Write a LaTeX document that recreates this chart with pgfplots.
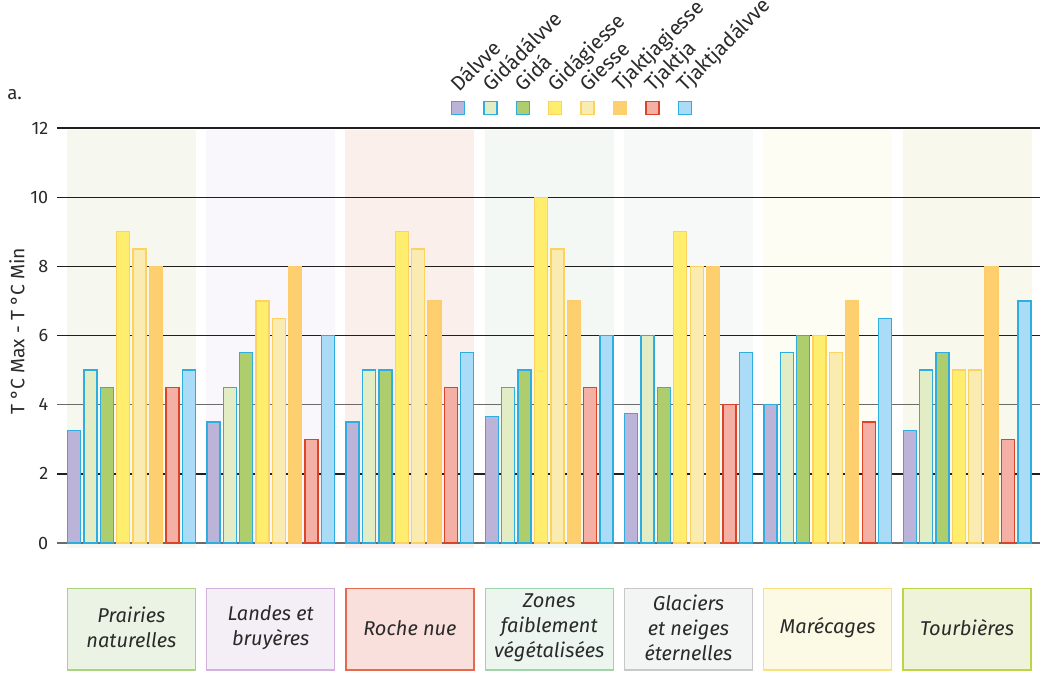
\documentclass[border=0pt]{standalone}
\usepackage{pgfplots}
\pgfplotsset{compat=1.18}
\usepackage{fontspec}
\setmainfont{Fira Sans}

\definecolor{txt}{HTML}{2A2A2A}
\definecolor{eBlue}{HTML}{2EAEE0}
\definecolor{eYel}{HTML}{FCD260}
\definecolor{eOra}{HTML}{FCCD6A}
\definecolor{eRed}{HTML}{DE4328}
\definecolor{fDal}{HTML}{BBB3D8}
\definecolor{fGda}{HTML}{E2EDC6}
\definecolor{fGid}{HTML}{AECE6E}
\definecolor{fGgi}{HTML}{FFEE6E}
\definecolor{fGie}{HTML}{FAEBB0}
\definecolor{fTgi}{HTML}{FDCF6E}
\definecolor{fTja}{HTML}{F4B0A4}
\definecolor{fTda}{HTML}{AADCF7}
% backgrounds of the groups
\definecolor{bg1}{HTML}{F6F8F0}
\definecolor{bg2}{HTML}{F9F7FB}
\definecolor{bg3}{HTML}{FBEFEC}
\definecolor{bg4}{HTML}{F3F8F4}
\definecolor{bg5}{HTML}{F7F9F9}
\definecolor{bg6}{HTML}{FDFDF3}
\definecolor{bg7}{HTML}{F8F9EC}
% category boxes
\definecolor{bf1}{HTML}{EBF4E4}\definecolor{bd1}{HTML}{A9D37D}
\definecolor{bf2}{HTML}{F4EFF6}\definecolor{bd2}{HTML}{D4B0DC}
\definecolor{bf3}{HTML}{F9E0DC}\definecolor{bd3}{HTML}{E36A4E}
\definecolor{bf4}{HTML}{ECF5EE}\definecolor{bd4}{HTML}{9FD4AA}
\definecolor{bf5}{HTML}{F3F5F4}\definecolor{bd5}{HTML}{C8C8C8}
\definecolor{bf6}{HTML}{FCF9E4}\definecolor{bd6}{HTML}{F5E27A}
\definecolor{bf7}{HTML}{EEF3D9}\definecolor{bd7}{HTML}{BCD544}

\tikzset{
    catbox/.style 2 args = {draw = #1, fill = #2, line width = 1pt,
        minimum width = 96pt, minimum height = 61pt, inner sep = 0pt},
    cattext/.style = {align = center, text = txt,
        font = \fontsize{15}{18.75}\selectfont\itshape}
}

\begin{document}
\begin{tikzpicture}

    \begin{axis}[
        scale only axis,
        width = 737.25pt,
        height = 311.25pt,
        xmin = -0.5342, xmax = 6.524,
        ymin = 0, ymax = 12,
        clip = false,
        axis line style = { draw = none },
        xtick = \empty,
        ytick = { 0, 2, ..., 12 },
        major tick length = 0pt,
        tick label style = { font = \fontsize{13.5}{16}\selectfont, text = txt },
        yticklabel style = { xshift = -3pt },
        /pgf/number format/assume math mode = true,
        ylabel = { T °C Max - T °C Min },
        every axis y label/.style = {
            at = { (axis description cs:-0.0407,0.51) },
            rotate = 90, anchor = center,
            font = \fontsize{14.5}{16}\selectfont, text = txt
        },
        ybar,
        bar width = 0.0934,
        every axis plot/.append style = { line width = 1pt }
    ]

        \coordinate (O) at (rel axis cs:0,0);

        % group backgrounds
        \fill[bg1] (axis cs:-0.463,-0.15) rectangle (axis cs:0.463,11.94);
        \fill[bg2] (axis cs:0.537,-0.15) rectangle (axis cs:1.463,11.94);
        \fill[bg3] (axis cs:1.537,-0.15) rectangle (axis cs:2.463,11.94);
        \fill[bg4] (axis cs:2.537,-0.15) rectangle (axis cs:3.463,11.94);
        \fill[bg5] (axis cs:3.537,-0.15) rectangle (axis cs:4.463,11.94);
        \fill[bg6] (axis cs:4.537,-0.15) rectangle (axis cs:5.463,11.94);
        \fill[bg7] (axis cs:5.537,-0.15) rectangle (axis cs:6.463,11.94);

        % horizontal rules, over the backgrounds and under the bars
        \pgfplotsinvokeforeach{2,6,8,10,12}{
            \draw[black!88, line width = 1pt] (axis cs:-0.5342,#1) -- (axis cs:6.524,#1);
        }
        \pgfplotsinvokeforeach{0,4}{
            \draw[black!58, line width = 1pt] (axis cs:-0.5342,#1) -- (axis cs:6.524,#1);
        }

        % Dálvve
        \addplot[fill = fDal, draw = eBlue, bar shift = -0.4116]
        coordinates { (0,3.25) (1,3.5) (2,3.5) (3,3.65) (4,3.75) (5,4) (6,3.25) };
        % Gidádálvve
        \addplot[fill = fGda, draw = eBlue, bar shift = -0.2940]
        coordinates { (0,5) (1,4.5) (2,5) (3,4.5) (4,6) (5,5.5) (6,5) };
        % Gidá
        \addplot[fill = fGid, draw = eBlue, bar shift = -0.1764]
        coordinates { (0,4.5) (1,5.5) (2,5) (3,5) (4,4.5) (5,6) (6,5.5) };
        % Gidágiesse
        \addplot[fill = fGgi, draw = eYel, bar shift = -0.0588]
        coordinates { (0,9) (1,7) (2,9) (3,10) (4,9) (5,6) (6,5) };
        % Giesse
        \addplot[fill = fGie, draw = eYel, bar shift = 0.0588]
        coordinates { (0,8.5) (1,6.5) (2,8.5) (3,8.5) (4,8) (5,5.5) (6,5) };
        % Tjaktjagiesse
        \addplot[fill = fTgi, draw = eOra, bar shift = 0.1764]
        coordinates { (0,8) (1,8) (2,7) (3,7) (4,8) (5,7) (6,8) };
        % Tjaktja
        \addplot[fill = fTja, draw = eRed, bar shift = 0.2940]
        coordinates { (0,4.5) (1,3) (2,4.5) (3,4.5) (4,4) (5,3.5) (6,3) };
        % Tjaktjadálvve
        \addplot[fill = fTda, draw = eBlue, bar shift = 0.4116]
        coordinates { (0,5) (1,6) (2,5.5) (3,6) (4,5.5) (5,6.5) (6,7) };

        % category boxes
        \node[catbox = {bd1}{bf1}] at (axis cs:0,-2.50) {};
        \node[catbox = {bd2}{bf2}] at (axis cs:1,-2.50) {};
        \node[catbox = {bd3}{bf3}] at (axis cs:2,-2.50) {};
        \node[catbox = {bd4}{bf4}] at (axis cs:3,-2.50) {};
        \node[catbox = {bd5}{bf5}] at (axis cs:4,-2.50) {};
        \node[catbox = {bd6}{bf6}] at (axis cs:5,-2.50) {};
        \node[catbox = {bd7}{bf7}] at (axis cs:6,-2.50) {};
        \node[cattext] at (axis cs:0,-2.45) {Prairies\\naturelles};
        \node[cattext] at (axis cs:1,-2.45) {Landes et\\bruyères};
        \node[cattext] at (axis cs:2,-2.45) {Roche nue};
        \node[cattext] at (axis cs:3,-2.45) {Zones\\faiblement\\végétalisées};
        \node[cattext] at (axis cs:4,-2.45) {Glaciers\\et neiges\\éternelles};
        \node[cattext] at (axis cs:5,-2.45) {Marécages};
        \node[cattext] at (axis cs:6,-2.45) {Tourbières};

    \end{axis}

    % page frame in pixels, origin at the bottom-left corner of the picture
    \begin{scope}[shift = {(O)}]
    \begin{scope}[x = 0.75pt, y = 0.75pt, shift = {(-57,-129)}]

        % legend
        \foreach \lab/\fc/\dc [count = \k from 0] in {
            Dálvve/fDal/eBlue, Gidádálvve/fGda/eBlue, Gidá/fGid/eBlue,
            Gidágiesse/fGgi/eYel, Giesse/fGie/eYel, Tjaktjagiesse/fTgi/eOra,
            Tjaktja/fTja/eRed, Tjaktjadálvve/fTda/eBlue} {
            \pgfmathsetmacro\lx{458+32.4*\k}
            \filldraw[fill = \fc, draw = \dc, line width = 1pt]
                (\lx-6.5,672-114.5) rectangle (\lx+6.5,672-101.5);
            \node[rotate = 45, anchor = base west, inner sep = 0pt, text = txt,
                font = \fontsize{15.3}{18}\selectfont] at (\lx+1,672-93) {\lab};
        }

        \node[text = txt, font = \fontsize{14}{16}\selectfont, anchor = base west,
            inner sep = 0pt] at (7,672-100) {a.};

        \pgfresetboundingbox
        \useasboundingbox (0,0) rectangle (1041,672);

    \end{scope}
    \end{scope}

\end{tikzpicture}
\end{document}
